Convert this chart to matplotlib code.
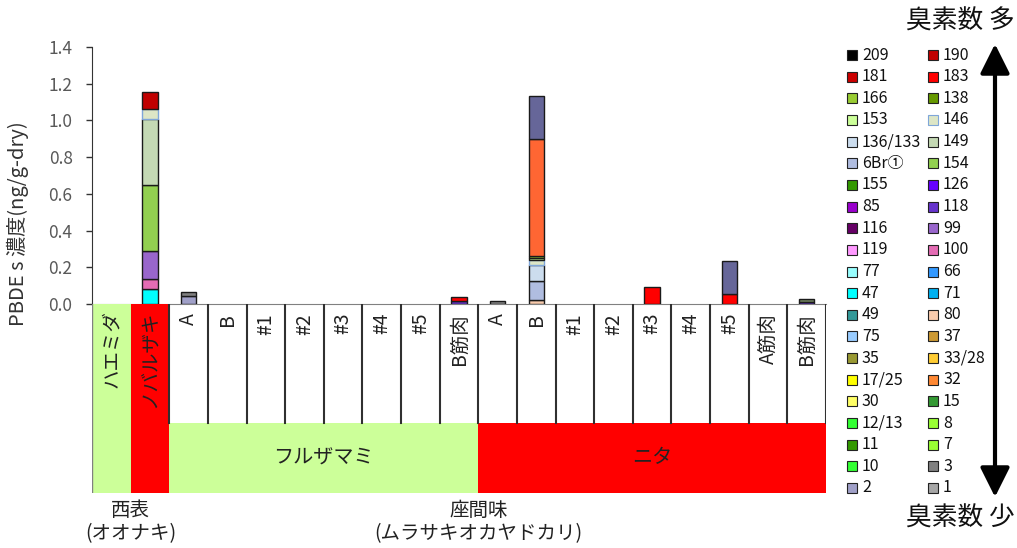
import matplotlib.pyplot as plt
from matplotlib.patches import Rectangle, FancyArrowPatch
import numpy as np

plt.rcParams['font.family'] = ['Noto Sans CJK JP', 'DejaVu Sans']

# ---- 試料（列）とグループ ----
samples = ["ハエミダ", "ノバルザキ",
           "A", "B", "#1", "#2", "#3", "#4", "#5", "B筋肉",
           "A", "B", "#1", "#2", "#3", "#4", "#5", "A筋肉", "B筋肉"]
sample_fill = ["#CCFF99", "#FF0000"] + ["white"] * 17
groups = [("フルザマミ", 2, 9, "#CCFF99"), ("ニタ", 10, 18, "#FF0000")]
regions = [("西表\n(オオナキ)", 0.5), ("座間味\n(ムラサキオカヤドカリ)", 9.5)]

# ---- 凡例（上から、左列・右列） ----
legend_left = ["209", "181", "166", "153", "136/133", "6Br①", "155", "85", "116", "119", "77",
               "47", "49", "75", "35", "17/25", "30", "12/13", "11", "10", "2"]
legend_right = ["190", "183", "138", "146", "149", "154", "126", "118", "99", "100", "66",
                "71", "80", "37", "33/28", "32", "15", "8", "7", "3", "1"]

colors = {
    "209": "#000000", "190": "#C00000", "181": "#CC0000", "183": "#FF0000",
    "166": "#99CC33", "138": "#669900", "153": "#CCFF99", "146": "#DDE6C6",
    "136/133": "#CCDDEE", "149": "#C4D9B4", "6Br①": "#B0BDE0", "154": "#92D050",
    "155": "#339900", "126": "#6600FF", "85": "#9900CC", "118": "#6633CC",
    "116": "#660066", "99": "#9966CC", "119": "#FF99FF", "100": "#E46CB4",
    "77": "#99FFFF", "66": "#3399FF", "47": "#00FFFF", "71": "#00B0F0",
    "49": "#339999", "80": "#F8CBAD", "75": "#99CCFF", "37": "#CC9933",
    "35": "#999933", "33/28": "#FFCC33", "17/25": "#FFFF00", "32": "#FF8833",
    "30": "#FFFF66", "15": "#339933", "12/13": "#33FF33", "8": "#99FF33",
    "11": "#339900", "7": "#99FF33", "10": "#33FF33", "3": "#808080",
    "2": "#A0A0C8", "1": "#A6A6A6",
}
# 棒グラフ側で色が違う系列
bar_colors = dict(colors)
bar_colors.update({"209": "#666699", "32": "#FF6633", "138": "#6E7F5E"})
edge_colors = {"146": "#7FA6D9"}

# ---- 濃度 (ng/g-dry) ----
conc = {
    "2":       [0, 0, 0.045, 0, 0, 0, 0, 0, 0, 0,     0,     0,     0, 0, 0,     0, 0,     0, 0],
    "3":       [0, 0, 0.022, 0, 0, 0, 0, 0, 0, 0,     0.017, 0,     0, 0, 0,     0, 0,     0, 0],
    "80":      [0, 0, 0,     0, 0, 0, 0, 0, 0, 0,     0,     0.024, 0, 0, 0,     0, 0,     0, 0],
    "47":      [0, 0.080, 0, 0, 0, 0, 0, 0, 0, 0,     0,     0,     0, 0, 0,     0, 0,     0, 0],
    "100":     [0, 0.056, 0, 0, 0, 0, 0, 0, 0, 0,     0,     0,     0, 0, 0,     0, 0,     0, 0],
    "99":      [0, 0.151, 0, 0, 0, 0, 0, 0, 0, 0,     0,     0,     0, 0, 0,     0, 0,     0, 0],
    "118":     [0, 0,     0, 0, 0, 0, 0, 0, 0, 0.014, 0,     0,     0, 0, 0,     0, 0,     0, 0.010],
    "154":     [0, 0.363, 0, 0, 0, 0, 0, 0, 0, 0,     0,     0,     0, 0, 0,     0, 0,     0, 0],
    "6Br①":    [0, 0,     0, 0, 0, 0, 0, 0, 0, 0,     0,     0.100, 0, 0, 0,     0, 0,     0, 0],
    "149":     [0, 0.356, 0, 0, 0, 0, 0, 0, 0, 0,     0,     0,     0, 0, 0,     0, 0,     0, 0],
    "136/133": [0, 0,     0, 0, 0, 0, 0, 0, 0, 0,     0,     0.087, 0, 0, 0,     0, 0,     0, 0],
    "146":     [0, 0.056, 0, 0, 0, 0, 0, 0, 0, 0,     0,     0.027, 0, 0, 0,     0, 0,     0, 0],
    "153":     [0, 0,     0, 0, 0, 0, 0, 0, 0, 0,     0,     0.011, 0, 0, 0,     0, 0,     0, 0],
    "138":     [0, 0,     0, 0, 0, 0, 0, 0, 0, 0,     0,     0,     0, 0, 0,     0, 0,     0, 0.016],
    "166":     [0, 0,     0, 0, 0, 0, 0, 0, 0, 0,     0,     0.011, 0, 0, 0,     0, 0,     0, 0],
    "32":      [0, 0,     0, 0, 0, 0, 0, 0, 0, 0,     0,     0.640, 0, 0, 0,     0, 0,     0, 0],
    "183":     [0, 0,     0, 0, 0, 0, 0, 0, 0, 0.022, 0,     0,     0, 0, 0.091, 0, 0.053, 0, 0],
    "190":     [0, 0.093, 0, 0, 0, 0, 0, 0, 0, 0,     0,     0,     0, 0, 0,     0, 0,     0, 0],
    "209":     [0, 0,     0, 0, 0, 0, 0, 0, 0, 0,     0,     0.233, 0, 0, 0,     0, 0.181, 0, 0],
}

# 積み上げ順（下から）: 凡例の逆順、32 は 183 の直前
legend_order = [s for pair in zip(legend_left, legend_right) for s in pair]
stack_order = legend_order[::-1]
stack_order.remove("32")
stack_order.insert(stack_order.index("183"), "32")

W, H = 1017, 548
fig = plt.figure(figsize=(W / 100, H / 100), dpi=100)


def fx(px):
    return px / W


def fy(py):
    return 1 - py / H


x_left, x_right = 92, 826
y_zero, y_top, y_tab = 304, 47, 493

# ---- 棒グラフ ----
ax = fig.add_axes([fx(x_left), fy(y_zero), fx(x_right - x_left), (y_zero - y_top) / H])
x = np.arange(len(samples))
bottom = np.zeros(len(samples))
for s in stack_order:
    if s not in conc:
        continue
    v = np.array(conc[s], dtype=float)
    m = v > 0
    ax.bar(x[m], v[m], bottom=bottom[m], width=0.4, color=bar_colors[s],
           edgecolor=edge_colors.get(s, "#1a1a1a"), linewidth=1.0, zorder=3)
    bottom += v

ax.set_xlim(-0.5, len(samples) - 0.5)
ax.set_ylim(0, 1.4)
ax.set_yticks(np.arange(0, 1.41, 0.2))
ax.set_yticklabels([f"{t:.1f}" for t in np.arange(0, 1.41, 0.2)])
ax.set_xticks([])
ax.tick_params(axis='y', direction='out', length=4, width=1, color='#333333',
               labelsize=12.5, labelcolor='#595959', pad=10)
for sp in ["top", "right"]:
    ax.spines[sp].set_visible(False)
ax.spines["left"].set_color("#333333")
ax.spines["bottom"].set_color("#808080")
ax.patch.set_alpha(0)

fig.text(fx(18), fy(224), "PBDE s 濃度(ng/g-dry)", rotation=90, ha='center', va='center',
         fontsize=14.5, color='#333333')

# ---- 試料名の表 ----
tab = fig.add_axes([fx(x_left), fy(y_tab), fx(x_right - x_left), (y_tab - y_zero) / H])
tab.set_xlim(-0.5, len(samples) - 0.5)
tab.set_ylim(0, y_tab - y_zero)
tab.axis('off')
row_h = y_tab - 423  # グループ行の高さ
full_h = y_tab - y_zero

for i, (name, fc) in enumerate(zip(samples, sample_fill)):
    if i < 2:
        tab.add_patch(Rectangle((i - 0.5, 0), 1, full_h, facecolor=fc, edgecolor='none'))
        tab.text(i, full_h - 6, name, rotation=90, ha='center', va='top', fontsize=14, color='#222222')
    else:
        tab.text(i, full_h - 9, name, rotation=90, ha='center', va='top', fontsize=14, color='#222222')

for label, i0, i1, fc in groups:
    tab.add_patch(Rectangle((i0 - 0.5, 0), i1 - i0 + 1, row_h, facecolor=fc, edgecolor='none'))
    tab.text((i0 + i1) / 2, row_h / 2, label, ha='center', va='center', fontsize=14.5, color='#222222')

for b in np.arange(1.5, len(samples), 1.0):
    tab.plot([b, b], [row_h, full_h], color='#303030', linewidth=1.5)
tab.plot([-0.5, -0.5], [0, full_h], color='#808080', linewidth=1.0)

for label, xb in regions:
    xp = x_left + (xb + 0.5) * (x_right - x_left) / len(samples)
    fig.text(fx(xp), fy(522), label, ha='center', va='center', fontsize=14,
             color='#222222', linespacing=1.15)

# ---- 凡例 ----
row0, drow = 55, (488 - 55) / 20
for col, (labels, sq_x, tx_x) in enumerate([(legend_left, 847, 862), (legend_right, 928, 943)]):
    for r, s in enumerate(labels):
        yc = row0 + r * drow
        fig.add_artist(Rectangle((fx(sq_x), fy(yc + 5)), fx(10), 10 / H,
                                 facecolor=colors[s], edgecolor=edge_colors.get(s, '#222222'),
                                 linewidth=0.8, transform=fig.transFigure))
        fig.text(fx(tx_x), fy(yc), s, ha='left', va='center', fontsize=11.5, color='#111111')

# ---- 臭素数の矢印 ----
arrow = FancyArrowPatch((fx(995), fy(497)), (fx(995), fy(44)), transform=fig.transFigure,
                        arrowstyle="<|-|>,head_length=1.0,head_width=0.5", mutation_scale=18,
                        shrinkA=0, shrinkB=0, linewidth=3, color='black')
fig.add_artist(arrow)
fig.text(fx(960), fy(22), "臭素数 多", ha='center', va='center', fontsize=18.5, color='#111111')
fig.text(fx(960), fy(519), "臭素数 少", ha='center', va='center', fontsize=18.5, color='#111111')

fig.savefig("out.png", dpi=100)
